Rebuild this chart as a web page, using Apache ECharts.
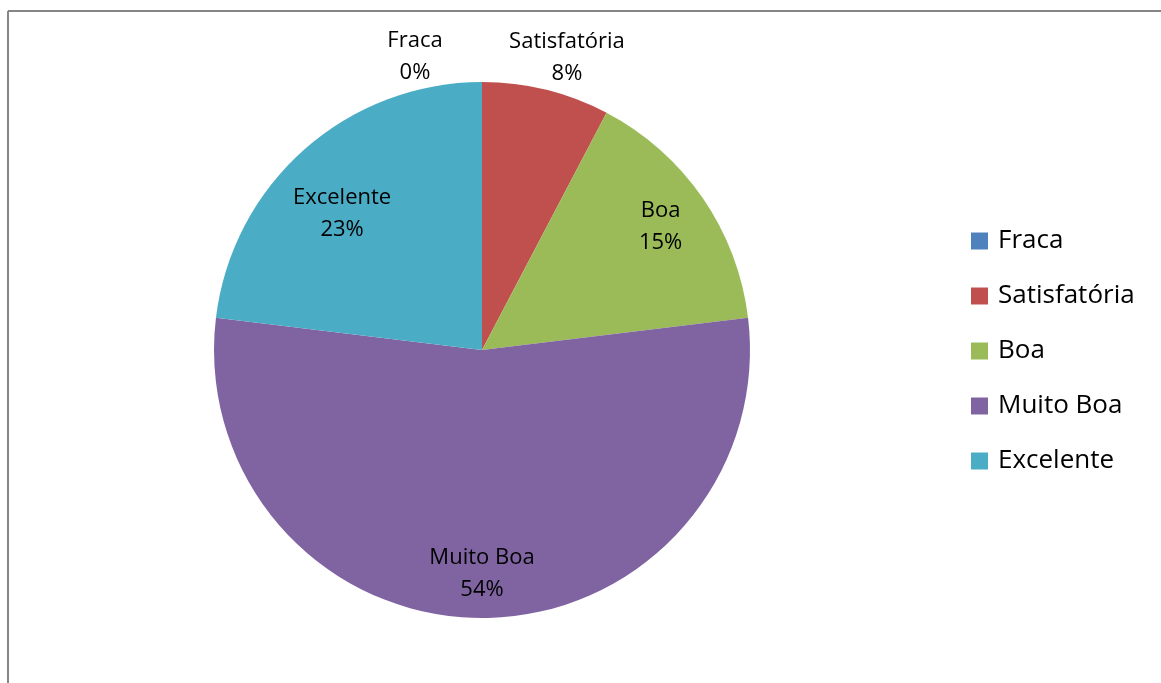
<!DOCTYPE html>
<html>
<head>
<meta charset="utf-8">
<script src="https://cdn.jsdelivr.net/npm/echarts@6/dist/echarts.min.js"></script>
<style>
html,body{margin:0;padding:0;background:#fff;}
#chart{width:1161px;height:683px;}
</style>
</head>
<body>
<div id="chart"></div>
<script>
const categories = ['Fraca', 'Satisfatória', 'Boa', 'Muito Boa', 'Excelente'];
const counts = [0, 1, 2, 7, 3];
const colors = ['#4F81BD', '#C0504D', '#9BBB59', '#8064A2', '#4BACC6'];

const FONT = '"Open Sans", "Noto Sans", sans-serif';
const center = [482, 350];
const R = 268;

const mainData = categories.map((n, i) => ({ name: n, value: counts[i], itemStyle: { color: colors[i] } }));

const labelOffsets = { 'Fraca': [-67, -76], 'Satisfatória': [33, -82], 'Excelente': [4, 26], 'Muito Boa': [0, 7] };
const labelData = categories.map((n, i) => {
  const d = { name: n, value: counts[i], itemStyle: { color: 'rgba(0,0,0,0)' } };
  if (labelOffsets[n]) d.label = { offset: labelOffsets[n] };
  return d;
});

const chart = echarts.init(document.getElementById('chart'), null, { renderer: 'canvas' });
chart.setOption({
  animation: false,
  backgroundColor: '#fff',
  graphic: [
    { type: 'line', shape: { x1: 8, y1: 11, x2: 1161, y2: 11 }, style: { stroke: '#868686', lineWidth: 2 }, silent: true },
    { type: 'line', shape: { x1: 8, y1: 11, x2: 8, y2: 683 }, style: { stroke: '#868686', lineWidth: 2 }, silent: true }
  ],
  legend: {
    orient: 'vertical',
    left: 971,
    top: 228,
    padding: 0,
    icon: 'rect',
    itemWidth: 17,
    itemHeight: 17,
    itemGap: 29,
    data: categories,
    textStyle: { fontFamily: FONT, fontSize: 26, color: '#000', padding: [0, 0, 0, 5] },
    selectedMode: false
  },
  series: [
    {
      type: 'pie',
      center: center,
      radius: R,
      startAngle: 90,
      clockwise: true,
      silent: true,
      label: { show: false },
      labelLine: { show: false },
      itemStyle: { borderWidth: 0 },
      data: mainData
    },
    {
      type: 'pie',
      center: center,
      radius: [200, 228],
      startAngle: 90,
      clockwise: true,
      silent: true,
      percentPrecision: 0,
      label: {
        show: true,
        position: 'inside',
        formatter: '{b}\n{d}%',
        fontFamily: FONT,
        fontSize: 22,
        lineHeight: 32,
        color: '#000'
      },
      labelLine: { show: false },
      data: labelData
    }
  ]
});
</script>
</body>
</html>
